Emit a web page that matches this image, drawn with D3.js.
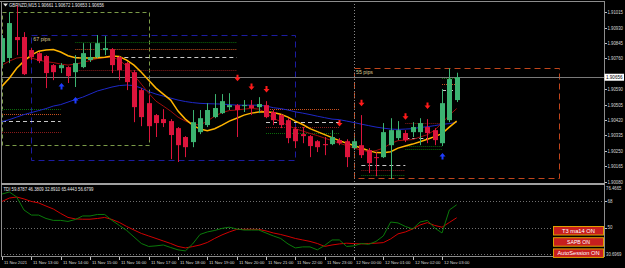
<!DOCTYPE html>
<html>
<head>
<meta charset="utf-8">
<script src="https://cdn.jsdelivr.net/npm/d3@7"></script>
<style>
body{margin:0;background:#000;}
svg{display:block;}
text{font-family:"Liberation Sans",Arial,sans-serif;}
</style>
</head>
<body>
<svg id="chart" width="625" height="268"></svg>
<script>
// GBPNZD M15, bars from 11 Nov 12:00 (index 0) to 12 Nov 03:30 (index 62)
var open = [1.90740,1.90762,1.90878,1.90878,1.90806,1.90789,1.90773,1.90723,1.90706,1.90712,
  1.90684,1.90712,1.90751,1.90767,1.90806,1.90811,1.90767,1.90734,1.90684,1.90585,
  1.90513,1.90447,1.90425,1.90414,1.90375,1.90326,1.90298,1.90353,1.90392,1.90436,
  1.90458,1.90491,1.90502,1.90497,1.90502,1.90491,1.90502,1.90464,1.90447,1.90419,
  1.90370,1.90342,1.90331,1.90303,1.90287,1.90287,1.90309,1.90303,1.90265,1.90281,
  1.90254,1.90215,1.90215,1.90281,1.90320,1.90348,1.90353,1.90353,1.90381,1.90364,
  1.90292,1.90419,1.90530];
var high = [1.90889,1.91016,1.91054,1.90905,1.90817,1.90795,1.90778,1.90729,1.90734,1.90717,
  1.90778,1.90844,1.90844,1.90889,1.90883,1.90817,1.90773,1.90740,1.90695,1.90596,
  1.90557,1.90453,1.90480,1.90425,1.90381,1.90331,1.90475,1.90475,1.90513,1.90563,
  1.90563,1.90568,1.90508,1.90530,1.90530,1.90546,1.90524,1.90475,1.90453,1.90430,
  1.90381,1.90381,1.90337,1.90309,1.90326,1.90364,1.90320,1.90314,1.90320,1.90447,
  1.90265,1.90243,1.90403,1.90430,1.90414,1.90364,1.90408,1.90430,1.90425,1.90375,
  1.90591,1.90706,1.90681];
var low = [1.90717,1.90734,1.90778,1.90668,1.90751,1.90734,1.90596,1.90640,1.90679,1.90624,
  1.90602,1.90706,1.90740,1.90762,1.90778,1.90679,1.90640,1.90585,1.90408,1.90386,
  1.90309,1.90326,1.90381,1.90204,1.90188,1.90215,1.90270,1.90342,1.90381,1.90430,
  1.90453,1.90475,1.90326,1.90464,1.90447,1.90458,1.90430,1.90392,1.90375,1.90292,
  1.90265,1.90292,1.90215,1.90243,1.90226,1.90281,1.90281,1.90160,1.90254,1.90210,
  1.90127,1.90110,1.90210,1.90094,1.90309,1.90298,1.90326,1.90281,1.90292,1.90281,
  1.90276,1.90408,1.90519];
var close = [1.90872,1.90955,1.90861,1.90673,1.90767,1.90745,1.90679,1.90684,1.90723,1.90662,
  1.90734,1.90789,1.90767,1.90844,1.90817,1.90723,1.90695,1.90629,1.90491,1.90436,
  1.90386,1.90403,1.90403,1.90337,1.90281,1.90270,1.90408,1.90430,1.90475,1.90486,
  1.90524,1.90502,1.90475,1.90502,1.90486,1.90508,1.90436,1.90419,1.90392,1.90320,
  1.90303,1.90331,1.90276,1.90270,1.90281,1.90326,1.90292,1.90215,1.90303,1.90226,
  1.90182,1.90210,1.90353,1.90364,1.90364,1.90309,1.90381,1.90403,1.90348,1.90309,
  1.90513,1.90646,1.90656];

// moving averages on the price chart
var t3ma = [1.90607,1.90651,1.90706,1.90745,1.90778,1.90800,1.90806,1.90809,1.90795,1.90775,
  1.90764,1.90762,1.90762,1.90764,1.90767,1.90773,1.90770,1.90751,1.90723,1.90684,
  1.90640,1.90596,1.90563,1.90530,1.90469,1.90425,1.90392,1.90370,1.90361,1.90372,
  1.90392,1.90414,1.90430,1.90447,1.90458,1.90464,1.90465,1.90461,1.90452,1.90436,
  1.90414,1.90395,1.90372,1.90356,1.90339,1.90323,1.90306,1.90292,1.90279,1.90265,
  1.90251,1.90240,1.90239,1.90245,1.90265,1.90276,1.90287,1.90300,1.90314,1.90328,
  1.90345,1.90381,1.90414];
var slowMa = [1.90411,1.90422,1.90436,1.90450,1.90461,1.90472,1.90483,1.90497,1.90505,1.90519,
  1.90533,1.90546,1.90563,1.90580,1.90591,1.90602,1.90610,1.90613,1.90610,1.90596,
  1.90577,1.90563,1.90552,1.90541,1.90530,1.90522,1.90516,1.90512,1.90510,1.90509,
  1.90508,1.90505,1.90502,1.90502,1.90502,1.90502,1.90497,1.90488,1.90483,1.90475,
  1.90465,1.90458,1.90450,1.90441,1.90433,1.90425,1.90422,1.90414,1.90406,1.90397,
  1.90389,1.90381,1.90375,1.90370,1.90368,1.90370,1.90372,1.90379,1.90383,1.90389,
  1.90396,1.90400,1.90407];
var fastMa = [1.90723,1.90745,1.90762,1.90767,1.90762,1.90751,1.90742,1.90737,1.90729,1.90723,
  1.90729,1.90737,1.90748,1.90759,1.90764,1.90767,1.90751,1.90717,1.90668,1.90618,
  1.90568,1.90524,1.90497,1.90469,1.90436,1.90414,1.90397,1.90392,1.90414,1.90441,
  1.90461,1.90472,1.90475,1.90480,1.90484,1.90480,1.90461,1.90430,1.90411,1.90389,
  1.90372,1.90359,1.90346,1.90334,1.90320,1.90306,1.90292,1.90279,1.90265,1.90254,
  1.90245,1.90251,1.90265,1.90290,1.90306,1.90309,1.90312,1.90326,1.90339,1.90364,
  1.90403,1.90447,1.90483];

// TDI sub window
var tdiPrice = [72.7,74.1,70.7,61.9,58.5,58.5,56.2,54.9,54.9,54.2,
  55.5,57.9,57.9,58.9,58.9,54.9,51.5,48.1,43.7,39.3,
  37.3,37.7,38.3,36.6,35.0,34.3,39.0,45.4,47.1,48.1,
  49.5,50.3,49.1,48.4,48.4,48.4,46.4,44.4,42.7,39.0,
  36.3,37.0,37.0,35.0,38.0,41.7,41.7,37.3,37.7,39.3,
  38.7,40.7,44.4,53.8,53.2,50.8,49.1,53.8,54.9,49.8,
  46.4,61.9,65.44];
var tdiSignal = [67.7,70.0,70.7,69.4,67.7,66.7,64.6,62.6,59.6,56.9,
  55.9,55.7,55.7,56.2,56.9,55.5,53.5,50.8,48.4,46.1,
  44.4,42.7,41.0,39.3,37.3,36.3,37.2,38.3,40.0,42.7,
  45.1,47.1,48.8,48.9,48.9,48.8,47.8,46.4,45.4,44.1,
  42.7,41.7,40.7,39.3,37.3,38.3,39.0,39.5,39.2,39.0,
  39.3,39.5,39.9,42.4,45.8,47.1,49.1,51.8,53.4,51.5,
  50.3,53.5,56.68];
var tdiLevels = [68, 50, 32];

// signal arrows (bar index, price)
var downArrowIdx = [32, 34, 36, 46, 49, 55, 58];
var downArrowPrice = [1.90651, 1.90602, 1.90589, 1.90401, 1.90512, 1.90438, 1.90497];
var upArrowIdx = [8, 10, 60];
var upArrowPrice = [1.90607, 1.90530, 1.90221];

// session boxes
var boxFrom = [0, 4, 48];
var boxTo = [20, 40, 76];
var boxTop = [1.91017, 1.90889, 1.90705];
var boxBottom = [1.90281, 1.90197, 1.90098];
var boxLabel = ["", "67 pips", "55 pips"];

// session level segments: from bar, to bar, price, kind
var levelFrom = [0,0,0,0, 10,10,10,10, 36,36,36,36, 49,49,49, 55,55,55,55, 60,60,60];
var levelTo =   [8,8,8,8, 32,32,32,32, 46,46,46,46, 55,55,55, 60,60,60,60, 62,62,62];
var levelPrice = [1.90478,1.90451,1.90416,1.90355, 1.90848,1.90810,1.90769,1.90694,
  1.90478,1.90410,1.90379,1.90346, 1.90171,1.90143,1.90116,
  1.90401,1.90318,1.90276,1.90258, 1.90650,1.90617,1.90585];
var levelKind = ["g","o","w","r", "g","o","w","r", "o","w","r","g", "w","r","g", "r","w","g","g", "g","o","w"];

var timeLabels = ["11 Nov 2021","11 Nov 13:00","11 Nov 14:00","11 Nov 15:00","11 Nov 16:00",
  "11 Nov 17:00","11 Nov 18:00","11 Nov 19:00","11 Nov 20:00","11 Nov 21:00","11 Nov 22:00",
  "11 Nov 23:00","12 Nov 00:00","12 Nov 01:00","12 Nov 02:00","12 Nov 03:00"];
var priceTicks = [1.91015,1.90930,1.90845,1.90760,1.90675,1.90590,1.90505,1.90420,1.90335,1.90250,1.90165,1.90080];
var bid = 1.90656;
var separatorIdx = 48;
var buttonLabels = ["T3 ma14 ON", "SAPB ON", "AutoSession ON"];

//----------------------------------------d3---------------------------------//
var svg = d3.select("#chart");
svg.append("rect").attr("width", 625).attr("height", 268).attr("fill", "#000");

var x = d3.scaleLinear().domain([0, 60]).range([2, 442]);
var y = d3.scaleLinear().domain([1.90080, 1.91015]).range([181.6, 12.2]);
var yT = d3.scaleLinear().domain([32, 68]).range([254.3, 201]);

var defs = svg.append("defs");
defs.append("clipPath").attr("id", "mainClip").append("rect")
  .attr("x", 1).attr("y", 1).attr("width", 603).attr("height", 182);
defs.append("clipPath").attr("id", "subClip").append("rect")
  .attr("x", 1).attr("y", 185).attr("width", 603).attr("height", 71);

function px(v) { return Math.round(v) + 0.5; }

// small helper for the tiny terminal texts
function label(g, tx, ty, str, size, fill, width, anchor) {
  var t = g.append("text")
    .attr("x", tx).attr("y", ty)
    .attr("font-size", size)
    .attr("fill", fill)
    .attr("text-anchor", anchor || "start")
    .text(str);
  if (width) t.attr("textLength", width).attr("lengthAdjust", "spacingAndGlyphs");
  return t;
}

var main = svg.append("g").attr("clip-path", "url(#mainClip)");
var idx = d3.range(open.length);

// boxes
var boxColors = ["#7a9a48", "#1c1ca0", "#c0461c"];
boxFrom.forEach(function(f, k) {
  main.append("rect")
    .attr("x", px(x(f))).attr("y", px(y(boxTop[k])))
    .attr("width", Math.round(x(boxTo[k]) - x(f)))
    .attr("height", Math.round(y(boxBottom[k]) - y(boxTop[k])))
    .attr("fill", "none")
    .attr("stroke", boxColors[k])
    .attr("stroke-width", 1)
    .attr("stroke-dasharray", k == 0 ? "4,3" : "6,4");
  if (boxLabel[k]) {
    label(main, x(f) + 2, y(boxTop[k]) + 6, boxLabel[k], 5, "#d8c890", 17);
  }
});

// session levels
var levelStyle = {
  g: {c: "#0a6a0a", d: "1,1"},
  o: {c: "#c8501e", d: "1,1"},
  w: {c: "#c8c8c8", d: "4,3"},
  r: {c: "#8a1a1a", d: "1,1"}
};
levelFrom.forEach(function(f, k) {
  var st = levelStyle[levelKind[k]];
  main.append("line")
    .attr("x1", x(f)).attr("x2", x(levelTo[k]))
    .attr("y1", px(y(levelPrice[k]))).attr("y2", px(y(levelPrice[k])))
    .attr("stroke", st.c).attr("stroke-dasharray", st.d);
});

// bid line
main.append("line")
  .attr("x1", 1).attr("x2", 604)
  .attr("y1", px(y(bid))).attr("y2", px(y(bid)))
  .attr("stroke", "#7a7a7a");

// moving averages
var maLine = d3.line().x(function(d, i) { return x(i); }).y(function(d) { return y(d); });
main.append("path").datum(slowMa).attr("d", maLine)
  .attr("fill", "none").attr("stroke", "#1e28c8").attr("stroke-width", 1);
main.append("path").datum(fastMa).attr("d", maLine)
  .attr("fill", "none").attr("stroke", "#a00c0c").attr("stroke-width", 1);
main.append("path").datum(t3ma).attr("d", maLine)
  .attr("fill", "none").attr("stroke", "#ffb400").attr("stroke-width", 1.5);

// candles
var bull = "#3cb371", bear = "#dc143c";
main.selectAll("line.wick").data(idx).join("line")
  .attr("class", "wick")
  .attr("x1", function(i) { return px(x(i)); })
  .attr("x2", function(i) { return px(x(i)); })
  .attr("y1", function(i) { return y(high[i]); })
  .attr("y2", function(i) { return y(low[i]); })
  .attr("stroke", function(i) { return close[i] >= open[i] ? bull : bear; });
main.selectAll("rect.body").data(idx).join("rect")
  .attr("class", "body")
  .attr("x", function(i) { return Math.round(x(i)) - 2; })
  .attr("width", 5)
  .attr("y", function(i) { return y(Math.max(open[i], close[i])); })
  .attr("height", function(i) { return Math.max(1, Math.abs(y(open[i]) - y(close[i]))); })
  .attr("fill", function(i) { return close[i] >= open[i] ? bull : bear; });

// arrows
var downPath = "M-1,-3.5h2v3h2l-3,3.5l-3,-3.5h2z";
var upPath = "M-1,3.5h2v-3h2l-3,-3.5l-3,3.5h2z";
downArrowIdx.forEach(function(i, k) {
  main.append("path").attr("d", downPath)
    .attr("transform", "translate(" + (Math.round(x(i)) + 0.5) + "," + y(downArrowPrice[k]) + ")")
    .attr("fill", "#ff1a1a");
});
upArrowIdx.forEach(function(i, k) {
  main.append("path").attr("d", upPath)
    .attr("transform", "translate(" + (Math.round(x(i)) + 0.5) + "," + y(upArrowPrice[k]) + ")")
    .attr("fill", "#1e3cff");
});

// TDI panel
var sub = svg.append("g").attr("clip-path", "url(#subClip)");
tdiLevels.forEach(function(v) {
  sub.append("line").attr("x1", 1).attr("x2", 604)
    .attr("y1", px(yT(v))).attr("y2", px(yT(v)))
    .attr("stroke", "#707070").attr("stroke-dasharray", "1,2");
});
var tdiLine = d3.line().x(function(d, i) { return x(i); }).y(function(d) { return yT(d); });
sub.append("path").datum(tdiSignal).attr("d", tdiLine)
  .attr("fill", "none").attr("stroke", "#d00000");
sub.append("path").datum(tdiPrice).attr("d", tdiLine)
  .attr("fill", "none").attr("stroke", "#0a7a0a");

// period separator
svg.append("line")
  .attr("x1", px(x(separatorIdx))).attr("x2", px(x(separatorIdx)))
  .attr("y1", 1).attr("y2", 256)
  .attr("stroke", "#8a8a8a").attr("stroke-dasharray", "1,2");

// frames
var frame = "#8c8c8c";
svg.append("line").attr("x1", 0).attr("x2", 605).attr("y1", 1.5).attr("y2", 1.5).attr("stroke", frame);
svg.append("line").attr("x1", 1.5).attr("x2", 1.5).attr("y1", 1).attr("y2", 257).attr("stroke", frame);
svg.append("line").attr("x1", 604.5).attr("x2", 604.5).attr("y1", 1).attr("y2", 257).attr("stroke", frame);
svg.append("rect").attr("x", 1).attr("y", 183).attr("width", 604).attr("height", 2).attr("fill", "#a0a0a0");
svg.append("line").attr("x1", 1).attr("x2", 605).attr("y1", 256.5).attr("y2", 256.5).attr("stroke", frame);

// price axis (the tick under the bid label has its text hidden)
var axisG = svg.append("g");
priceTicks.forEach(function(p) {
  var ty = px(y(p));
  axisG.append("line").attr("x1", 605).attr("x2", 607).attr("y1", ty).attr("y2", ty).attr("stroke", "#c0c0c0");
  if (Math.abs(p - bid) > 0.0003) label(axisG, 607.5, ty + 1.6, p.toFixed(5), 4.5, "#d8d8d8", 15.5);
});
axisG.append("rect").attr("x", 604.5).attr("y", y(bid) - 3.5).attr("width", 19.5).attr("height", 7)
  .attr("fill", "#fff");
label(axisG, 606, y(bid) + 1.7, bid.toFixed(5), 4.5, "#000", 16.5);

// TDI axis
label(axisG, 606, yT(76.4665) + 1.6, "76.4665", 4.5, "#d8d8d8", 15.5);
[68, 50].forEach(function(v) {
  axisG.append("line").attr("x1", 605).attr("x2", 607).attr("y1", px(yT(v))).attr("y2", px(yT(v))).attr("stroke", "#c0c0c0");
  label(axisG, 607.5, yT(v) + 1.6, String(v), 4.5, "#d8d8d8", 5);
});
label(axisG, 606, 255.5, "30.6969", 4.5, "#d8d8d8", 15.5);

// time axis
timeLabels.forEach(function(t, k) {
  var tx = px(x(k * 4));
  axisG.append("line").attr("x1", tx).attr("x2", tx).attr("y1", 257).attr("y2", 260).attr("stroke", "#c0c0c0");
  label(axisG, tx + 1.5, 263.5, t, 4, "#d8d8d8", k == 0 ? 23 : 25.5);
});

// titles
svg.append("path").attr("d", "M3,3.5h5l-2.5,3z").attr("fill", "#e0e0e0");
label(svg, 9, 7, "GBPNZD,M15  1.90661 1.90672 1.90653 1.90656", 4.6, "#e8e8e8", 95);
label(svg, 3.5, 190.5, "TDI 59.8787 46.3809 32.8910 65.4443 56.6799", 4.6, "#e8e8e8", 90);

// buttons
buttonLabels.forEach(function(b, k) {
  var by = 226.5 + k * 11.2;
  svg.append("rect").attr("x", 553.5).attr("y", by).attr("width", 50).attr("height", 8.5)
    .attr("fill", "#c81e1e").attr("stroke", "#e0a000").attr("stroke-width", 1);
  label(svg, 578.5, by + 6.2, b, 5.5, "#ffffff", [33, 23, 42][k], "middle");
});
</script>
</body>
</html>
